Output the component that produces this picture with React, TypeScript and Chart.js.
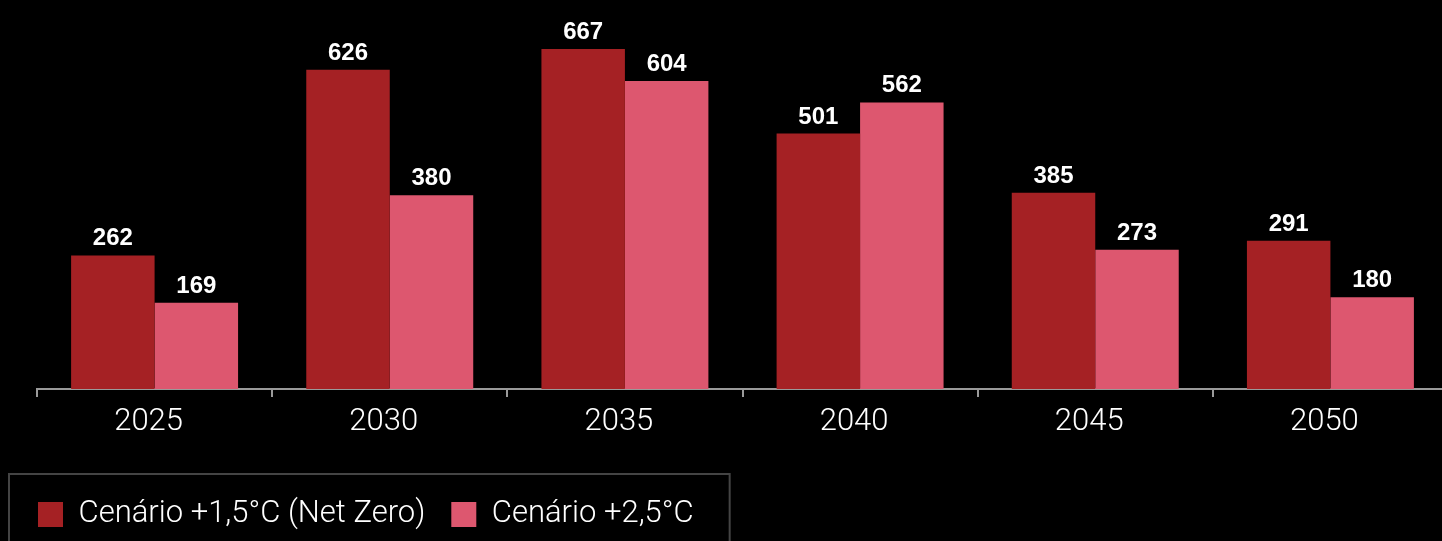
import React, { useEffect, useRef } from "react";
import { Chart, registerables } from "chart.js";

Chart.register(...registerables);

const categories = ["2025", "2030", "2035", "2040", "2045", "2050"];
const netZeroValues = [262, 626, 667, 501, 385, 291];
const plus25Values = [169, 380, 604, 562, 273, 180];
const seriesLabels = ["Cenário +1,5°C (Net Zero)", "Cenário +2,5°C"];
const seriesColors = ["#A52124", "#DD576F"];

export default function App() {
  const ref = useRef<HTMLCanvasElement>(null);

  useEffect(() => {
    document.body.style.margin = "0";
    document.body.style.background = "#000";
    const canvas = ref.current;
    if (!canvas) return;

    const valueLabels = {
      id: "valueLabels",
      afterDatasetsDraw(chart: any) {
        const ctx = chart.ctx;
        ctx.save();
        ctx.fillStyle = "#ffffff";
        ctx.font = "bold 24px 'Liberation Sans', Arial, sans-serif";
        ctx.textAlign = "center";
        ctx.textBaseline = "alphabetic";
        chart.data.datasets.forEach((ds: any, i: number) => {
          const meta = chart.getDatasetMeta(i);
          meta.data.forEach((el: any, j: number) => {
            ctx.fillText(String(ds.data[j]), el.x, el.y - 10);
          });
        });
        ctx.restore();
      },
    };

    const legendBorder = {
      id: "legendBorder",
      afterDraw(chart: any) {
        const lg = chart.legend;
        if (!lg || !lg.legendHitBoxes || !lg.legendHitBoxes.length) return;
        const boxes = lg.legendHitBoxes;
        const last = boxes[boxes.length - 1];
        const ctx = chart.ctx;
        ctx.save();
        ctx.strokeStyle = "#444444";
        ctx.lineWidth = 2;
        const x0 = lg.left - 4 + 1;
        const y0 = lg.top + 1;
        const x1 = last.left + last.width + 36;
        ctx.strokeRect(x0, y0, x1 - x0, lg.height + 30);
        ctx.restore();
      },
    };

    const chart = new Chart(canvas, {
      type: "bar",
      data: {
        labels: categories,
        datasets: [
          {
            label: seriesLabels[0],
            data: netZeroValues,
            backgroundColor: seriesColors[0],
            borderWidth: 0,
            categoryPercentage: 0.71,
            barPercentage: 1,
          },
          {
            label: seriesLabels[1],
            data: plus25Values,
            backgroundColor: seriesColors[1],
            borderWidth: 0,
            categoryPercentage: 0.71,
            barPercentage: 1,
          },
        ],
      },
      options: {
        animation: false,
        responsive: true,
        maintainAspectRatio: false,
        layout: { padding: { left: 12, right: 2, top: 0, bottom: 1 } },
        plugins: {
          tooltip: { enabled: false },
          legend: {
            position: "bottom",
            align: "start",
            labels: {
              color: "#ffffff",
              boxWidth: 25,
              boxHeight: 25,
              padding: 26,
              font: { family: "Roboto, 'Liberation Sans', sans-serif", size: 31, weight: "300" },
            },
          },
        },
        scales: {
          x: {
            grid: {
              display: true,
              drawOnChartArea: false,
              drawTicks: true,
              tickLength: 8,
              color: "#9a9a9a",
              lineWidth: 2,
            },
            border: { display: true, color: "#9a9a9a", width: 2 },
            ticks: {
              color: "#ffffff",
              padding: 7,
              labelOffset: -6,
              font: { family: "Roboto, 'Liberation Sans', sans-serif", size: 31, weight: "300" },
            },
            afterFit: (s: any) => {
              s.height = 84;
            },
          },
          y: {
            min: 0,
            max: 763,
            display: true,
            grid: { display: false },
            border: { display: false },
            ticks: { display: false },
            afterFit: (s: any) => {
              s.width = 25;
            },
          },
        },
      },
      plugins: [valueLabels, legendBorder],
    });

    return () => chart.destroy();
  }, []);

  return (
    <div style={{ width: 1442, height: 541, overflow: "hidden", background: "#000" }}>
      <div style={{ width: 1450, height: 541, position: "relative" }}>
        <canvas ref={ref} />
      </div>
    </div>
  );
}
